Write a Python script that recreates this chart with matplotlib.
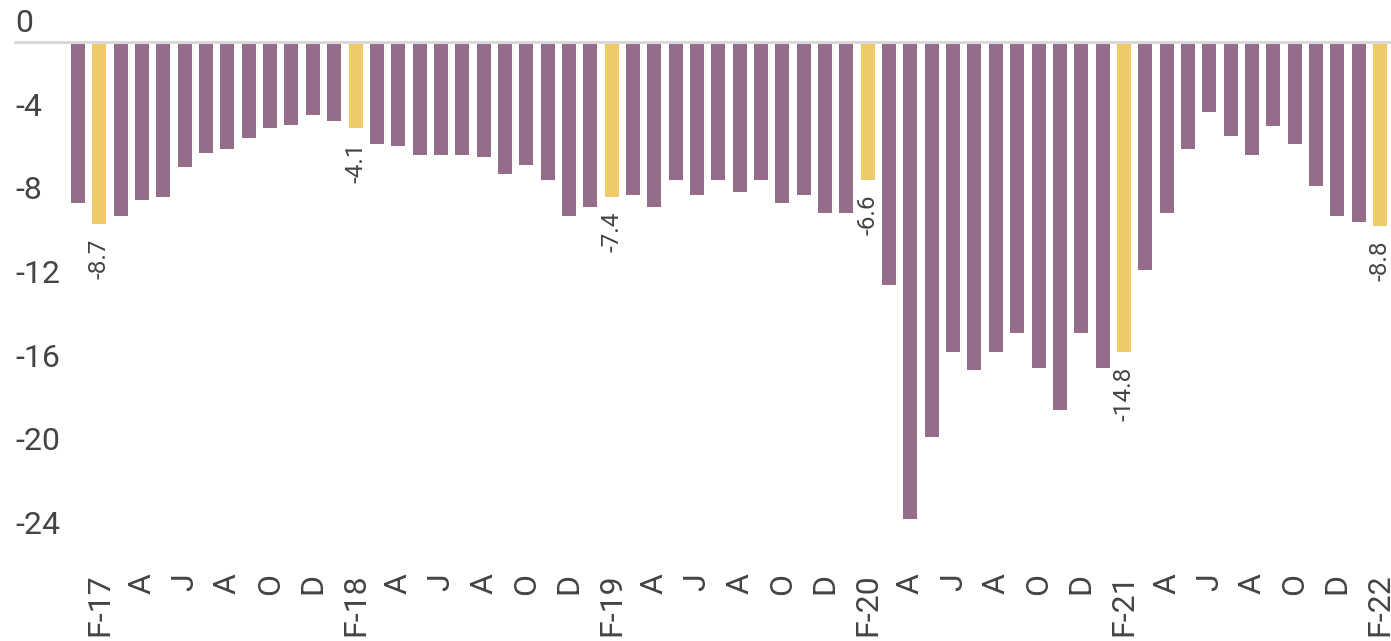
import matplotlib
matplotlib.use('Agg')
import matplotlib.pyplot as plt
from matplotlib import transforms

plt.rcParams['font.family'] = ['Roboto', 'DejaVu Sans']

# ---- data ----
month_names = ['Jan', 'Feb', 'Mar', 'Apr', 'May', 'Jun',
               'Jul', 'Aug', 'Sep', 'Oct', 'Nov', 'Dec']
years = [17, 18, 19, 20, 21, 22]
months = [f'{m}-{y}' for y in years for m in month_names][:62]  # Jan-17 .. Feb-22

values = [
    -7.7, -8.7, -8.3, -7.55, -7.4, -6.0, -5.3, -5.1, -4.6, -4.1, -3.97, -3.5,   # 2017
    -3.8, -4.1, -4.9, -5.0, -5.4, -5.4, -5.4, -5.5, -6.3, -5.9, -6.6, -8.3,     # 2018
    -7.9, -7.4, -7.3, -7.9, -6.6, -7.3, -6.6, -7.2, -6.6, -7.7, -7.3, -8.2,     # 2019
    -8.2, -6.6, -11.6, -22.8, -18.9, -14.8, -15.7, -14.8, -13.9, -15.6, -17.6, -13.9,  # 2020
    -15.6, -14.8, -10.9, -8.2, -5.1, -3.35, -4.5, -5.4, -4.0, -4.9, -6.9, -8.3,  # 2021
    -8.6, -8.8,                                                                  # 2022
]
highlight = 'Feb'
ytick_values = [0, -4, -8, -12, -16, -20, -24]
ytick_labels = ['0', '-4', '-8', '-12', '-16', '-20', '-24']

# ---- style ----
PURPLE = '#956c8a'
YELLOW = '#efca69'
TEXT = '#444444'
GRID = '#d9d9d9'

W, H = 1391, 641
fig = plt.figure(figsize=(W / 100, H / 100), dpi=100)
ax = fig.add_axes([14 / W, (H - 544) / H, (W - 14) / W, 544 / H])

x = list(range(len(values)))
colors = [YELLOW if m.startswith(highlight) else PURPLE for m in months]
ax.bar(x, values, width=0.656, color=colors, zorder=2)
ax.set_xlim(-3.0, 61.515)
ax.set_ylim(-24, 2.0)
ax.axhline(0, color=GRID, lw=2.2, zorder=3)

for s in ax.spines.values():
    s.set_visible(False)

# y labels above their (invisible) gridlines
ax.set_yticks([])
ylab_trans = transforms.offset_copy(
    transforms.blended_transform_factory(ax.transAxes, ax.transData),
    fig=fig, x=1, y=10, units='dots')
for v, lab in zip(ytick_values, ytick_labels):
    ax.text(0, v, lab, transform=ylab_trans, ha='left', va='baseline',
            fontsize=23, color=TEXT)

# x tick labels every two months starting in February
xt, xl = [], []
for i, m in enumerate(months):
    name, yy = m.split('-')
    if name in ('Feb', 'Apr', 'Jun', 'Aug', 'Oct', 'Dec'):
        xt.append(i)
        xl.append(f'F-{yy}' if name == 'Feb' else name[0])
ax.set_xticks(xt)
ax.set_xticklabels(xl, rotation=90, fontsize=23, color=TEXT)
ax.tick_params(axis='x', length=0, pad=21)

# value labels for highlighted bars
lab_trans = transforms.offset_copy(ax.transData, fig=fig, x=0, y=-15, units='dots')
for i, (m, v) in enumerate(zip(months, values)):
    if m.startswith(highlight):
        ax.text(i, v, f'{v:.1f}', transform=lab_trans, rotation=90,
                ha='center', va='top', fontsize=17.5, color=TEXT)

fig.savefig('out.png', dpi=100)
